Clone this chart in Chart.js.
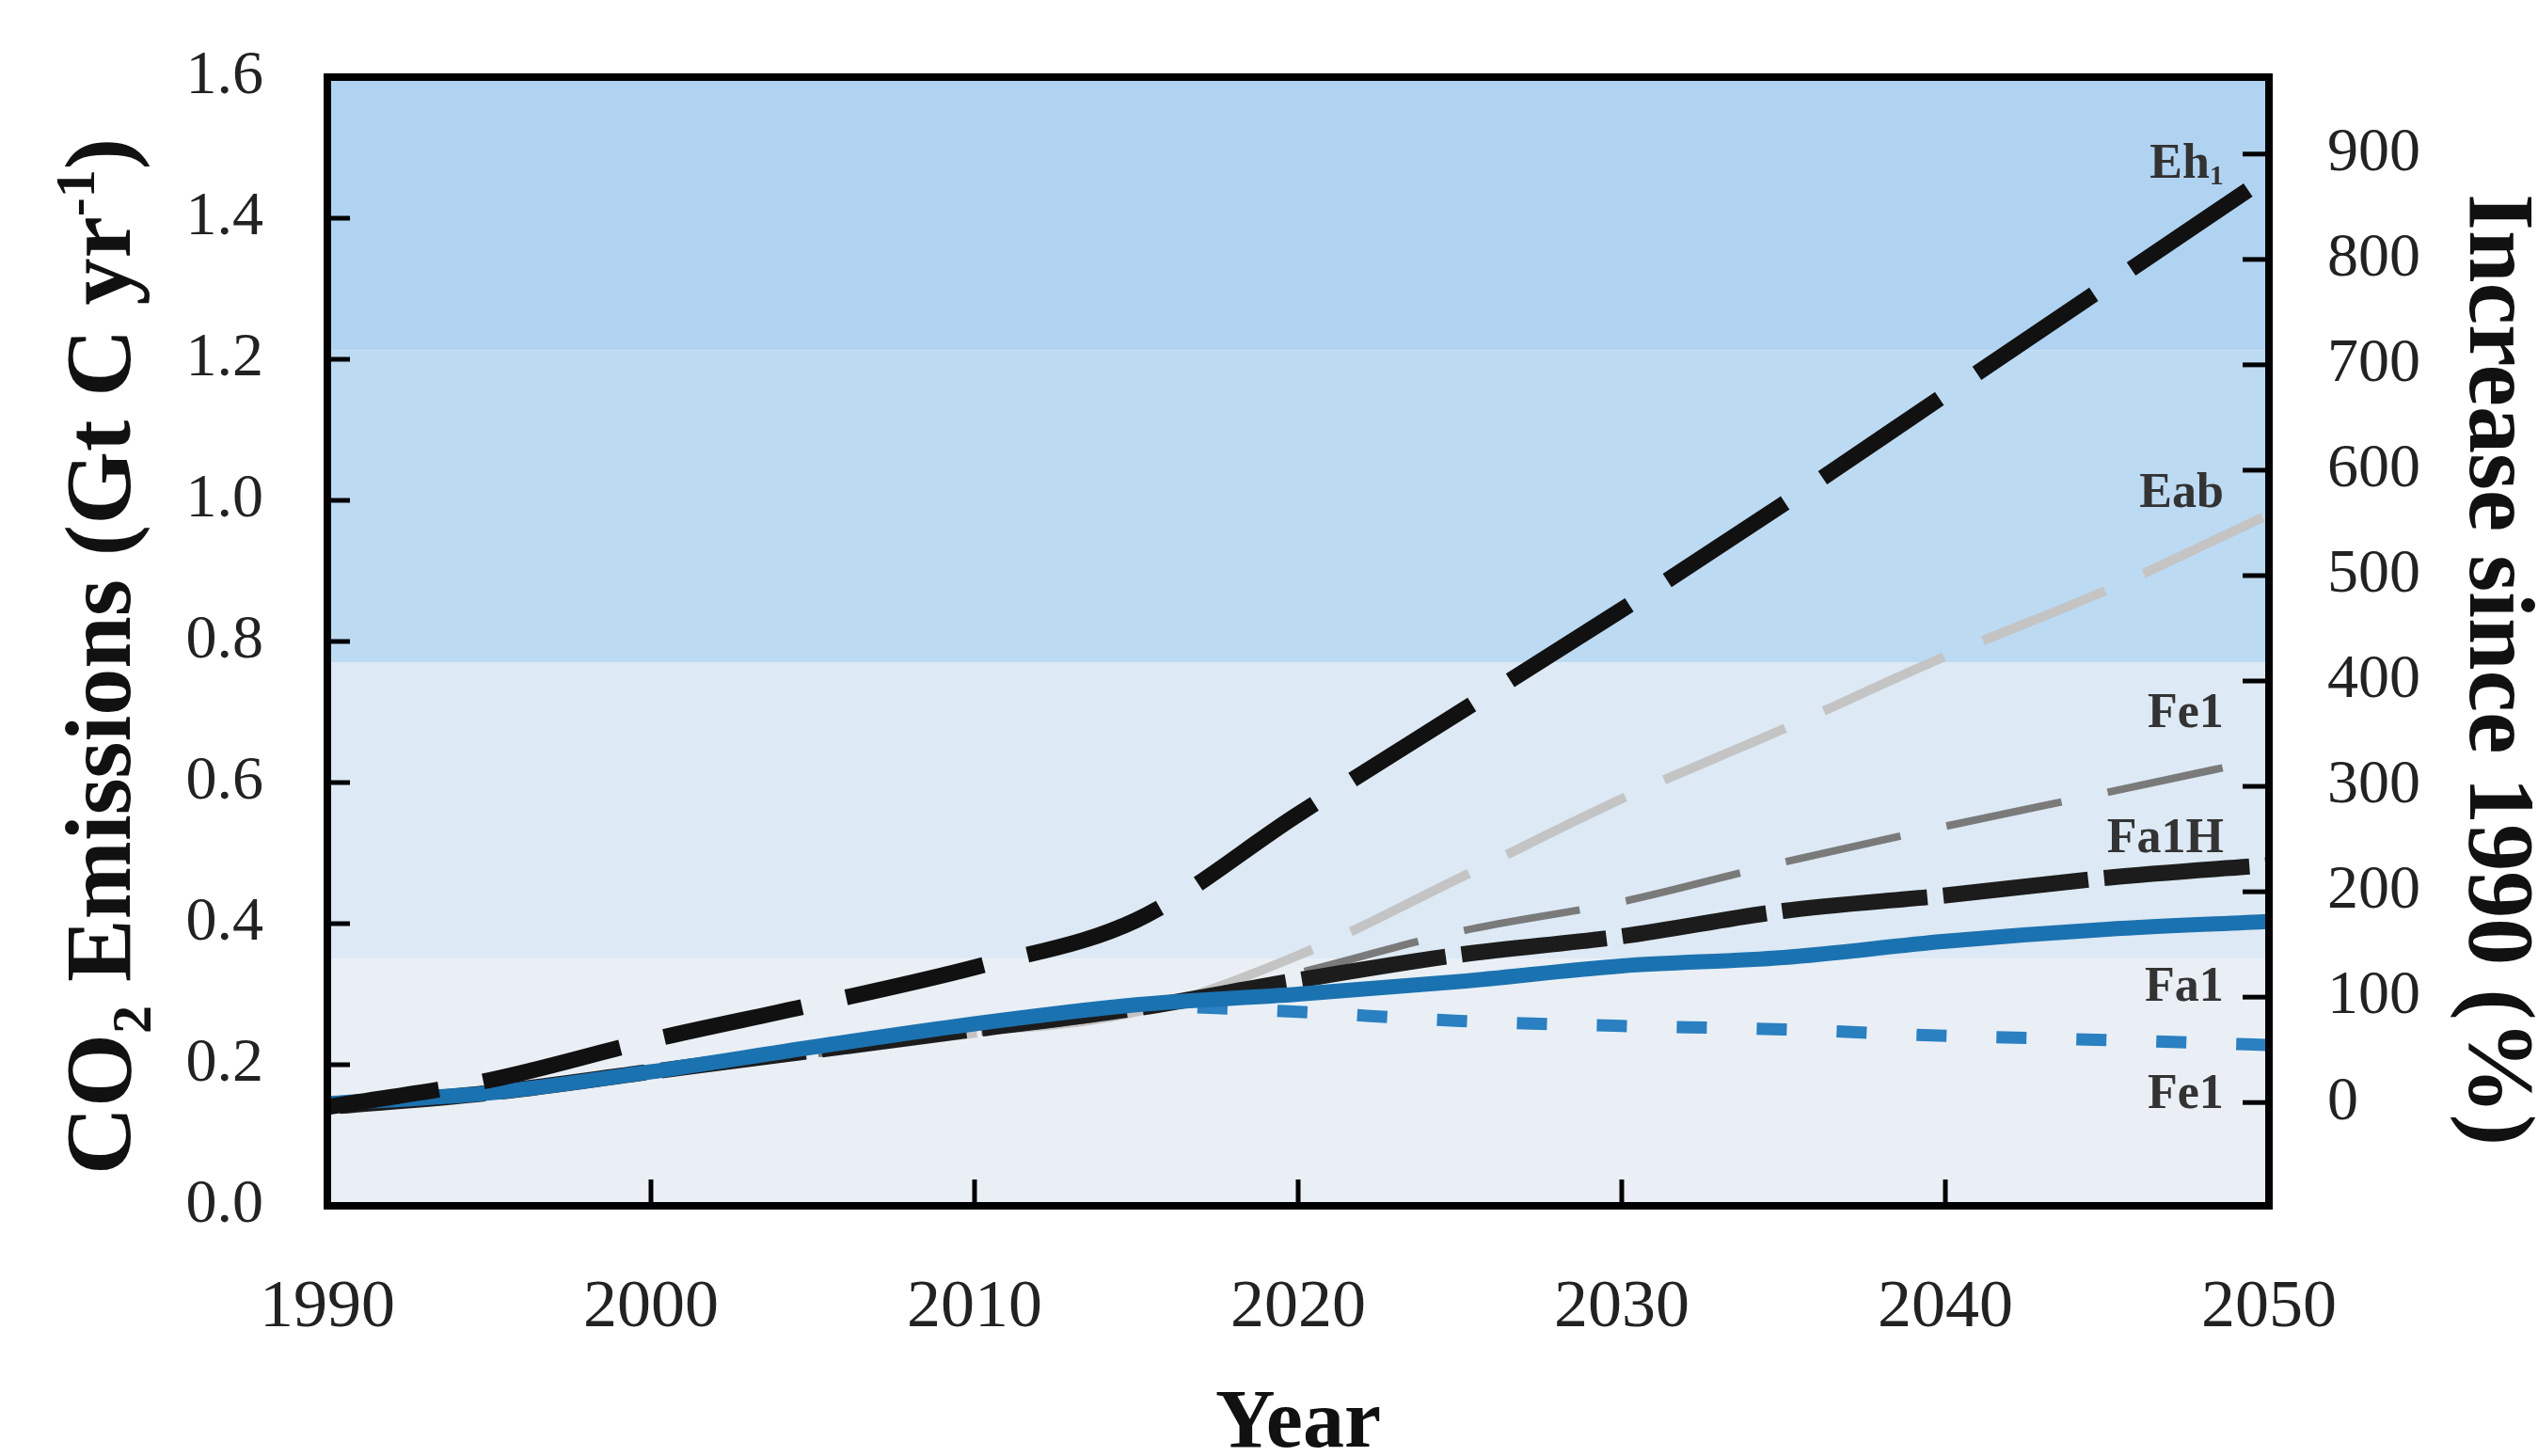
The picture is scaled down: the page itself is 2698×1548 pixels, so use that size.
<!DOCTYPE html>
<html>
<head>
<meta charset="utf-8">
<script src="https://cdn.jsdelivr.net/npm/chart.js@4.4.1/dist/chart.umd.min.js"></script>
<style>
  html, body { margin: 0; padding: 0; background: #ffffff; }
  #c { display: block; }
</style>
</head>
<body>
<canvas id="c" width="2698" height="1548"></canvas>
<script>
// ---------------- data ----------------
const years = [1990, 1995, 2000, 2005, 2010, 2015, 2020, 2025, 2030, 2035, 2040, 2045, 2050];
const ehValues   = [0.14, 0.178, 0.235, 0.285, 0.338, 0.405, 0.555, 0.70, 0.845, 0.995, 1.15, 1.305, 1.46];
const eabValues  = [0.14, 0.16, 0.19, 0.215, 0.245, 0.275, 0.355, 0.465, 0.577, 0.676, 0.779, 0.873, 0.98];
const fe1GreyValues = [0.14, 0.158, 0.185, 0.215, 0.245, 0.275, 0.33, 0.389, 0.431, 0.487, 0.538, 0.586, 0.635];
const fa1hValues = [0.14, 0.16, 0.19, 0.22, 0.25, 0.28, 0.32, 0.356, 0.382, 0.418, 0.44, 0.465, 0.483];
const fa1Values  = [0.145, 0.16, 0.19, 0.225, 0.258, 0.285, 0.30, 0.318, 0.34, 0.352, 0.375, 0.392, 0.403];
const fe1BlueYears  = [2015, 2020, 2025, 2030, 2035, 2040, 2045, 2050];
const fe1BlueValues = [0.285, 0.275, 0.262, 0.255, 0.25, 0.241, 0.235, 0.228];

const leftTicks  = [0, 0.2, 0.4, 0.6, 0.8, 1.0, 1.2, 1.4, 1.6];
const rightTicks = [0, 100, 200, 300, 400, 500, 600, 700, 800, 900];
const xTicks     = [1990, 2000, 2010, 2020, 2030, 2040, 2050];

// curve labels (text, value at which they sit on the left axis)
const curveLabels     = ['Eh', 'Eab', 'Fe1', 'Fa1H', 'Fa1', 'Fe1'];
const curveLabelSub   = ['1', '', '', '', '', ''];
const curveLabelValues = [1.475, 1.009, 0.696, 0.519, 0.309, 0.157];
const curveLabelYear  = 2048.6;

// background bands (value ranges on left axis)
const bandFrom  = [1.213, 0.77, 0.35, 0.0];
const bandTo    = [1.6, 1.213, 0.77, 0.35];
const bandColor = ['#b1d3f2', '#bddaf3', '#dde9f4', '#e9eff5'];

const xTitle = 'Year';
const rightTitle = 'Increase since 1990 (%)';

function pts(xs, ys) { return xs.map((x, i) => ({ x: x, y: ys[i] })); }

const SERIF = '"Liberation Serif", "DejaVu Serif", "Times New Roman", serif';

// ---------------- plugins ----------------
const bgPlugin = {
  id: 'bgBands',
  beforeDatasetsDraw(chart) {
    const { ctx, chartArea: a, scales } = chart;
    const y = scales.y;
    ctx.save();
    for (let i = 0; i < bandFrom.length; i++) {
      const yt = y.getPixelForValue(bandTo[i]);
      const yb = y.getPixelForValue(bandFrom[i]);
      ctx.fillStyle = bandColor[i];
      ctx.fillRect(a.left, yt, a.right - a.left, yb - yt);
    }
    ctx.restore();
  }
};

function drawRich(ctx, parts, cx, cy) {
  let w = 0;
  parts.forEach(p => { ctx.font = 'bold ' + p.s + 'px ' + SERIF; p.w = ctx.measureText(p.t).width; w += p.w; });
  let x = cx - w / 2;
  ctx.textAlign = 'left';
  ctx.textBaseline = 'alphabetic';
  parts.forEach(p => {
    ctx.font = 'bold ' + p.s + 'px ' + SERIF;
    ctx.fillText(p.t, x, cy + (p.dy || 0));
    x += p.w;
  });
}

const framePlugin = {
  id: 'frame',
  afterDatasetsDraw(chart) {
    const { ctx, chartArea: a, scales } = chart;
    ctx.save();
    ctx.strokeStyle = '#000';
    ctx.lineWidth = 5;
    leftTicks.forEach(v => {
      if (v <= 0 || v >= 1.6) return;
      const yy = scales.y.getPixelForValue(v);
      ctx.beginPath(); ctx.moveTo(a.left, yy); ctx.lineTo(a.left + 24, yy); ctx.stroke();
    });
    rightTicks.forEach(v => {
      const yy = scales.y2.getPixelForValue(v);
      ctx.beginPath(); ctx.moveTo(a.right, yy); ctx.lineTo(a.right - 28, yy); ctx.stroke();
    });
    xTicks.forEach(v => {
      if (v <= 1990 || v >= 2050) return;
      const xx = scales.x.getPixelForValue(v);
      ctx.beginPath(); ctx.moveTo(xx, a.bottom); ctx.lineTo(xx, a.bottom - 28); ctx.stroke();
    });
    ctx.lineWidth = 8;
    ctx.strokeRect(a.left, a.top, a.right - a.left, a.bottom - a.top);

    // curve labels
    ctx.fillStyle = '#333';
    ctx.textBaseline = 'middle';
    const lx = scales.x.getPixelForValue(curveLabelYear);
    curveLabels.forEach((t, i) => {
      const ly = scales.y.getPixelForValue(curveLabelValues[i]);
      let subW = 0;
      if (curveLabelSub[i]) {
        ctx.font = 'bold 30px ' + SERIF;
        subW = ctx.measureText(curveLabelSub[i]).width;
        ctx.textAlign = 'right';
        ctx.fillText(curveLabelSub[i], lx, ly + 12);
      }
      ctx.font = 'bold 52px ' + SERIF;
      ctx.textAlign = 'right';
      ctx.fillText(t, lx - subW, ly);
    });

    // axis titles
    ctx.fillStyle = '#111';
    ctx.save();
    ctx.translate(103, 698);
    ctx.rotate(-Math.PI / 2);
    drawRich(ctx, [
      { t: 'CO', s: 100 },
      { t: '2', s: 60, dy: 22 },
      { t: ' Emissions (Gt C yr', s: 100 },
      { t: '-1', s: 60, dy: -38 },
      { t: ')', s: 100 }
    ], 0, 35);
    ctx.restore();

    ctx.save();
    ctx.translate(2660, 712);
    ctx.rotate(Math.PI / 2);
    drawRich(ctx, [{ t: rightTitle, s: 100 }], 0, 34);
    ctx.restore();

    drawRich(ctx, [{ t: xTitle, s: 88 }], (a.left + a.right) / 2, 1538);
    ctx.restore();
  }
};

function fixV(width) {
  return s => { s.width = width; s.paddingTop = 0; s.paddingBottom = 0; };
}

// ---------------- chart ----------------
const ctx = document.getElementById('c').getContext('2d');
new Chart(ctx, {
  type: 'line',
  data: {
    datasets: [
      { label: 'Eh', data: pts(years, ehValues), borderColor: '#111111', borderWidth: 17,
        borderDash: [150, 48], borderDashOffset: 30, order: 1 },
      { label: 'Fa1', data: pts(years, fa1Values), borderColor: '#1b72b0', borderWidth: 16, order: 2 },
      { label: 'Fa1H', data: pts(years, fa1hValues), borderColor: '#1c1c1c', borderWidth: 17,
        borderDash: [155, 17], borderDashOffset: 159, order: 3 },
      { label: 'Fe1 (grey)', data: pts(years, fe1GreyValues), borderColor: '#7a7a7a', borderWidth: 8,
        borderDash: [125, 50], order: 4 },
      { label: 'Eab', data: pts(years, eabValues), borderColor: '#c4c4c4', borderWidth: 10,
        borderDash: [140, 45], order: 5 },
      { label: 'Fe1 (blue)', data: pts(fe1BlueYears, fe1BlueValues), borderColor: '#2a80c0', borderWidth: 13,
        borderDash: [32, 53], borderDashOffset: 20, order: 6 }
    ]
  },
  options: {
    responsive: false,
    animation: false,
    devicePixelRatio: 1,
    layout: { padding: { top: 82, left: 0, right: 0, bottom: 0 } },
    elements: {
      point: { radius: 0 },
      line: { tension: 0, cubicInterpolationMode: 'monotone', borderCapStyle: 'butt', fill: false }
    },
    plugins: { legend: { display: false }, tooltip: { enabled: false }, title: { display: false } },
    scales: {
      x: {
        type: 'linear', min: 1990, max: 2050,
        afterFit: s => { s.height = 266; s.paddingLeft = 0; s.paddingRight = 0; },
        afterBuildTicks: s => { s.ticks = xTicks.map(v => ({ value: v })); },
        grid: { display: false }, border: { display: false },
        ticks: { color: '#222', padding: 58, maxRotation: 0, autoSkip: false,
                 font: { family: SERIF, size: 72 }, callback: v => String(v) }
      },
      y: {
        type: 'linear', position: 'left', min: 0, max: 1.6,
        afterFit: fixV(348),
        afterBuildTicks: s => { s.ticks = leftTicks.map(v => ({ value: v })); },
        grid: { display: false }, border: { display: false },
        ticks: { color: '#222', padding: 60, autoSkip: false,
                 font: { family: SERIF, size: 66 }, callback: v => Number(v).toFixed(1) }
      },
      y2: {
        type: 'linear', position: 'right', min: -98, max: 973,
        afterFit: fixV(286),
        afterBuildTicks: s => { s.ticks = rightTicks.map(v => ({ value: v })); },
        grid: { display: false }, border: { display: false },
        ticks: { color: '#222', padding: 54, autoSkip: false,
                 font: { family: SERIF, size: 66 }, callback: v => String(v) }
      }
    }
  },
  plugins: [bgPlugin, framePlugin]
});
</script>
</body>
</html>
